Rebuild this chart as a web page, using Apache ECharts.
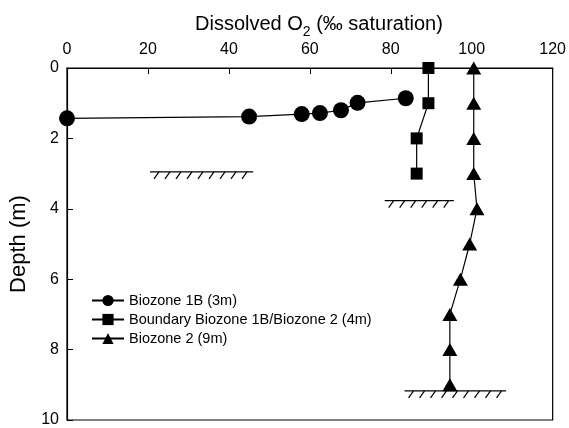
<!DOCTYPE html>
<html>
<head>
<meta charset="utf-8">
<script src="https://cdn.jsdelivr.net/npm/echarts@6/dist/echarts.min.js"></script>
<style>html,body{margin:0;padding:0;background:#fff}#main{width:569px;height:428px}</style>
</head>
<body>
<div id="main"></div>
<script>
var xTicks=[0,20,40,60,80,100,120];
var depthTicks=[0,2,4,6,8,10];
var biozone1B=[[0,1.43],[45,1.38],[58,1.31],[62.5,1.28],[67.7,1.2],[71.8,0.99],[83.7,0.86]];
var boundary=[[89.3,0],[89.3,1],[86.4,2],[86.4,3]];
var biozone2=[[100.5,0],[100.5,1],[100.5,2],[100.5,3],[101.3,4],[99.5,5],[97.2,6],[94.6,7],[94.6,8],[94.6,9]];
// ground levels: [x start, depth, x end]
var groundLines=[[20.5,2.95,46],[78.5,3.77,95.6],[83.4,9.17,108.5]];
var names=['Biozone 1B (3m)','Boundary Biozone 1B/Biozone 2 (4m)','Biozone 2 (9m)'];

var main=document.getElementById("main");
var mychart=echarts.init(main);
var font='Liberation Sans';
var lineStyle={color:'#000',width:1.2};
var option={
    animation:false,
    title:{text:'{a|Dissolved O}{s|2}{a| (‰ saturation)}',left:190,top:4,
        textStyle:{rich:{a:{fontSize:20,fontFamily:font,fontWeight:'normal',color:'#000',verticalAlign:'bottom',lineHeight:25},
            s:{fontSize:14,fontFamily:font,fontWeight:'normal',color:'#000',verticalAlign:'bottom',lineHeight:17,padding:[0,0,-5,0]}}}},
    legend:{data:names,orient:'vertical',left:86,top:288,itemGap:4,itemWidth:32,itemHeight:14,padding:5,
        textStyle:{fontFamily:font,fontSize:14.5,color:'#000'}},
    grid:{left:62,right:15,top:68,bottom:8,show:true,borderColor:'#000',borderWidth:1.2},
    xAxis:{type:'value',position:'top',min:0,max:120,interval:20,
        axisLine:{lineStyle:{color:'#000',width:1.2}},
        axisTick:{inside:true,length:6,lineStyle:{color:'#000'}},
        axisLabel:{fontFamily:font,fontSize:16,color:'#000',margin:10},
        splitLine:{show:false}},
    yAxis:{type:'value',inverse:true,min:0,max:10,interval:2,name:'Depth (m)',nameLocation:'middle',nameGap:37,
        nameTextStyle:{fontFamily:font,fontSize:22,color:'#000'},
        axisLine:{lineStyle:{color:'#000',width:1.2}},
        axisTick:{inside:true,length:6,lineStyle:{color:'#000'}},
        axisLabel:{fontFamily:font,fontSize:16,color:'#000',margin:8},
        splitLine:{show:false}},
    series:[
        {name:names[0],type:'line',data:biozone1B,symbol:'circle',symbolSize:16,lineStyle:lineStyle,itemStyle:{color:'#000'}},
        {name:names[1],type:'line',data:boundary,symbol:'rect',symbolSize:12,lineStyle:lineStyle,itemStyle:{color:'#000'}},
        {name:names[2],type:'line',data:biozone2,symbol:'triangle',symbolSize:[15,13],lineStyle:lineStyle,itemStyle:{color:'#000'}},
        {type:'custom',data:groundLines,encode:{x:0,y:1},silent:true,z:1,
            renderItem:function(params,api){
                var a=api.coord([api.value(0),api.value(1)]);
                var b=api.coord([api.value(2),api.value(1)]);
                var kids=[{type:'line',shape:{x1:a[0],y1:a[1],x2:b[0],y2:b[1]},style:{stroke:'#000',lineWidth:1.2}}];
                for(var x=a[0]+9;x<b[0]-2;x+=11){
                    kids.push({type:'line',shape:{x1:x,y1:a[1],x2:x-5,y2:a[1]+7},style:{stroke:'#000',lineWidth:1.2}});
                }
                return {type:'group',children:kids};
            }}
    ]
};
mychart.setOption(option);
</script>
</body>
</html>
